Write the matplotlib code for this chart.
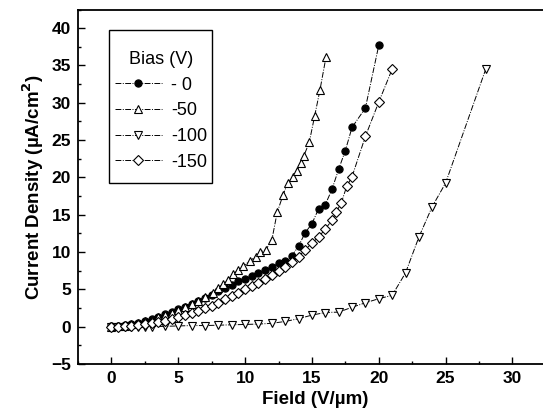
import matplotlib
matplotlib.use("Agg")
import matplotlib.pyplot as plt
from matplotlib.ticker import MultipleLocator
from matplotlib.patches import Rectangle

plt.rcParams['font.family'] = ['Liberation Sans', 'DejaVu Sans']

# Bias 0 V (filled circles)
x_0 = [0, 0.5, 1, 1.5, 2, 2.5, 3, 3.5, 4, 4.5, 5, 5.5, 6, 6.5, 7, 7.5, 8, 8.5, 9, 9.5,
       10, 10.5, 11, 11.5, 12, 12.5, 13, 13.5, 14, 14.5, 15, 15.5, 16, 16.5, 17, 17.5,
       18, 19, 20]
y_0 = [0.05, 0.1, 0.2, 0.35, 0.55, 0.8, 1.05, 1.35, 1.65, 2.0, 2.35, 2.7, 3.1, 3.5, 3.9, 4.3,
       4.75, 5.2, 5.6, 6.1, 6.45, 6.75, 7.2, 7.6, 8.0, 8.5, 8.8, 9.5, 10.8, 12.6, 13.8, 15.8,
       16.35, 18.4, 21.1, 23.6, 26.7, 29.3, 37.7]

# Bias -50 V (up triangles)
x_50 = [0, 0.5, 1, 1.5, 2, 2.5, 3, 3.5, 4, 4.5, 5, 5.5, 6, 6.5, 7, 7.6, 8.0, 8.35, 8.73,
        9.1, 9.5, 9.85, 10.35, 10.8, 11.15, 11.55, 12.0, 12.4, 12.85, 13.2, 13.6, 13.85,
        14.17, 14.4, 14.8, 15.2, 15.6, 16.05]
y_50 = [0.0, 0.05, 0.15, 0.3, 0.5, 0.7, 0.95, 1.25, 1.55, 1.9, 2.3, 2.7, 3.1, 3.5, 4.0, 4.5,
        5.2, 5.75, 6.3, 7.0, 7.66, 8.1, 8.8, 9.4, 10.0, 10.3, 11.6, 15.3, 17.7, 19.3, 20.1,
        20.8, 21.9, 22.9, 24.7, 28.2, 31.7, 36.1]

# Bias -100 V (down triangles)
x_100 = [0, 0.5, 1, 1.5, 2, 2.5, 3, 4, 5, 6, 7, 8, 9, 10, 11, 12, 13, 14, 15, 16, 17, 18,
         19, 20, 21, 22, 23, 24, 25, 28]
y_100 = [0, 0, 0, 0, 0, 0, 0, 0.05, 0.1, 0.15, 0.15, 0.2, 0.25, 0.3, 0.35, 0.45, 0.7, 1.07,
         1.55, 1.9, 1.95, 2.6, 3.2, 3.75, 4.2, 7.2, 12.0, 16.1, 19.25, 34.5]

# Bias -150 V (diamonds)
x_150 = [0, 0.5, 1, 1.5, 2, 2.5, 3, 3.5, 4, 4.5, 5, 5.5, 6, 6.5, 7, 7.5, 8, 8.5, 9, 9.5,
         10, 10.5, 11, 11.5, 12, 12.5, 13, 13.5, 14, 14.5, 15, 15.5, 16, 16.5, 16.8, 17.2,
         17.6, 18, 19, 20, 21]
y_150 = [0, 0, 0.05, 0.1, 0.2, 0.3, 0.45, 0.6, 0.8, 1.0, 1.25, 1.5, 1.8, 2.1, 2.45, 2.8,
         3.2, 3.7, 4.1, 4.55, 5.0, 5.45, 5.9, 6.35, 6.9, 7.5, 8.0, 8.6, 9.4, 10.3, 11.2, 12.0,
         13.1, 14.25, 15.3, 16.6, 18.8, 20.1, 25.5, 30.1, 34.5]

labels = ['- 0', '-50', '-100', '-150']

fig = plt.figure(figsize=(5.43, 4.15), dpi=100)
ax = fig.add_axes([0.1436, 0.1229, 0.874, 0.8542])

ls = (0, (6, 1.5, 1, 1.5))
common = dict(color='black', lw=0.7, ls=ls, markersize=5.2, markeredgewidth=0.8)
ax.plot(x_0, y_0, marker='o', mfc='black', mec='black', label=labels[0], **common)
ax.plot(x_50, y_50, marker='^', mfc='white', mec='black', label=labels[1], **common)
ax.plot(x_100, y_100, marker='v', mfc='white', mec='black', label=labels[2], **common)
ax.plot(x_150, y_150, marker='D', mfc='white', mec='black', label=labels[3],
        **{**common, 'markersize': 4.6})

ax.set_xlim(-2.5, 33)
ax.set_ylim(-5, 42.5)
ax.xaxis.set_minor_locator(MultipleLocator(2.5))
ax.yaxis.set_major_locator(MultipleLocator(5))
ax.yaxis.set_minor_locator(MultipleLocator(2.5))
ax.set_xticks([0, 5, 10, 15, 20, 25, 30])

ax.tick_params(which='major', direction='in', length=5, width=1, labelsize=12.5, pad=5)
ax.tick_params(which='minor', direction='in', length=2.5, width=1)
for t in ax.get_xticklabels() + ax.get_yticklabels():
    t.set_fontweight('bold')
for s in ax.spines.values():
    s.set_linewidth(1.3)

ax.set_xlabel('Field (V/\u00b5m)', fontsize=13.5, fontweight='bold', labelpad=4)
ax.set_ylabel('Current Density (\u00b5A/cm$^\\mathbf{2}$)', fontsize=13.5,
              fontweight='bold', labelpad=4)

# legend without its own frame, box drawn separately to match the padding
leg = ax.legend(title='Bias (V)', loc='upper left', bbox_to_anchor=(0.2118, 0.877),
                bbox_transform=fig.transFigure, fontsize=13, title_fontsize=13,
                frameon=False, handlelength=2.6, handletextpad=0.5,
                labelspacing=0.48, borderpad=0, borderaxespad=0)
fig.patches.append(Rectangle((0.2007, 0.559), 0.1897, 0.3699, transform=fig.transFigure,
                             fill=False, edgecolor='black', linewidth=1.0))

fig.savefig('out.png', dpi=100)
